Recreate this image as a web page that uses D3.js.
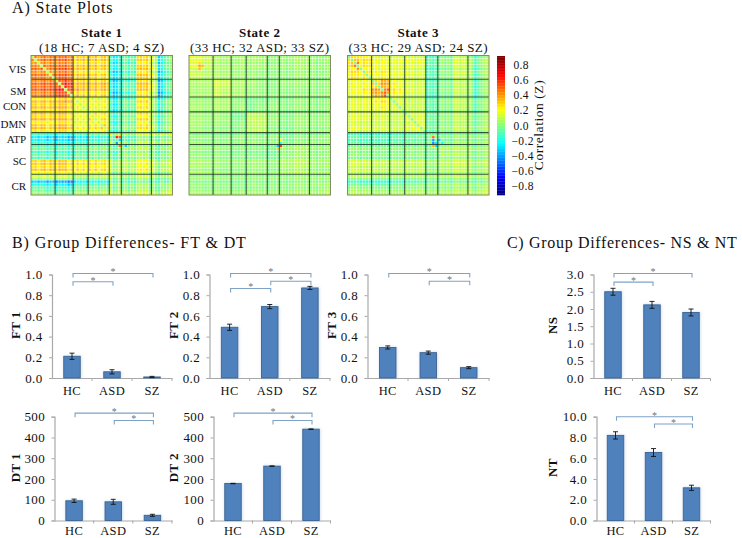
<!DOCTYPE html>
<html><head><meta charset="utf-8">
<script src="https://cdn.jsdelivr.net/npm/d3@7"></script>
<style>
html,body{margin:0;padding:0;background:#fff}
svg{display:block}
text{font-family:"Liberation Serif",serif;fill:#111}
</style></head><body>
<svg id="c" width="742" height="538"></svg>
<script>
const groups = ["HC","ASD","SZ"];
const networks = ["VIS","SM","CON","DMN","ATP","SC","CR"];
const networkEdges = [8,14,19,26,30,40];
const bandEdges = [0,4,8,11,14,16,19,22,26,30,35,40,42,44,47];
const componentCount = 47;

const ft1 = [0.21,0.06,0.01],  ft1Err = [0.03,0.02,0.006];
const ft2 = [0.49,0.69,0.87],  ft2Err = [0.03,0.02,0.015];
const ft3 = [0.295,0.245,0.10],ft3Err = [0.015,0.015,0.01];
const dt1 = [95,90,25],        dt1Err = [8,12,5];
const dt2 = [178,262,440],     dt2Err = [1,1,1];
const ns  = [2.5,2.12,1.9],    nsErr  = [0.1,0.1,0.1];
const nt  = [8.2,6.55,3.15],   ntErr  = [0.35,0.38,0.25];

// [from group, to group, height in axis units]
const ft1Sig = [[0,2,1.01],[0,1,0.93]];
const ft2Sig = [[0,2,1.01],[0,1,0.865],[1,2,0.935]];
const ft3Sig = [[0,2,1.01],[1,2,0.935]];
const dt1Sig = [[0,2,517],[1,2,482]];
const dt2Sig = [[0,2,517],[1,2,482]];
const nsSig  = [[0,2,3.03],[0,1,2.78]];
const ntSig  = [[0,2,10.0],[1,2,9.3]];

const state1 = [
[38,42,42,43,25,28,28,26,-20,-8,20,8,-24,-6],
[42,40,45,46,26,28,26,23,-24,-9,22,10,-27,-10],
[42,45,48,54,28,30,28,28,-26,-11,22,8,-32,-12],
[43,46,54,50,30,28,26,26,-27,-11,20,8,-34,-14],
[25,26,28,30,20,18,16,16,-18,-5,17,3,-17,-3],
[28,28,30,28,18,20,18,18,-17,-3,18,5,-14,-1],
[28,26,28,26,16,18,22,20,-12,-1,18,4,-12,1],
[26,23,28,26,16,18,20,24,-12,-1,16,6,-12,1],
[-20,-24,-26,-27,-18,-17,-12,-12,2,-2,2,6,4,4],
[-8,-9,-11,-11,-5,-3,-1,-1,-2,5,3,3,0,3],
[20,22,22,20,17,18,18,16,2,3,9,5,-1,3],
[8,10,8,8,3,5,4,6,6,3,5,7,1,3],
[-24,-27,-32,-34,-17,-14,-12,-12,4,0,-1,1,3,1],
[-6,-10,-12,-14,-3,-1,1,1,4,3,3,3,1,6]];
const state2 = [
[16,11,5,5,4,5,4,5,1,3,5,3,1,3],
[11,8,6,6,4,4,3,3,1,2,4,3,1,2],
[5,6,13,12,6,6,4,3,0,3,3,3,1,2],
[5,6,12,9,7,6,3,3,1,2,2,3,1,3],
[4,4,6,7,4,2,-2,1,1,1,3,2,1,2],
[5,4,6,6,2,4,-3,2,2,1,2,2,0,2],
[4,3,4,3,-2,-3,9,9,2,0,3,2,2,2],
[5,3,3,3,1,2,9,11,2,1,4,3,2,3],
[1,1,0,1,1,2,2,2,1,-2,1,2,1,2],
[3,2,3,2,1,1,0,1,-2,4,6,3,2,3],
[5,4,3,2,3,2,3,4,1,6,8,4,3,4],
[3,3,3,3,2,2,2,3,2,3,4,4,3,3],
[1,1,1,1,1,0,2,2,1,2,3,3,4,3],
[3,2,2,3,2,2,2,3,2,3,4,3,3,6]];
const state3 = [
[26,22,17,16,14,15,15,14,-9,0,10,4,-7,4],
[22,21,18,20,15,16,14,12,-11,-1,9,4,-9,3],
[17,18,28,36,20,18,13,12,-10,-1,8,3,-10,2],
[16,20,36,38,22,20,13,12,-11,-2,7,2,-11,1],
[14,15,20,22,14,14,10,10,-8,0,8,3,-5,2],
[15,16,18,20,14,16,11,11,-7,0,8,3,-5,3],
[15,14,13,13,10,11,14,14,-5,1,8,4,-3,4],
[14,12,12,12,10,11,14,17,-5,1,8,4,-2,5],
[-9,-11,-10,-11,-8,-7,-5,-5,-1,-2,2,3,1,3],
[0,-1,-1,-2,0,0,1,1,-2,5,6,4,2,4],
[10,9,8,7,8,8,8,8,2,6,9,6,3,6],
[4,4,3,2,3,3,4,4,3,4,6,6,3,6],
[-7,-9,-10,-11,-5,-5,-3,-2,1,2,3,3,4,4],
[4,3,2,1,2,3,4,5,3,4,6,6,4,9]];

// per-component stripe offsets read from the row banding, in hundredths
const stripe1 = [2,5,-2,4,6,-3,5,2,-2,6,3,7,-3,2,-4,5,-2,3,-5,4,-2,5,-4,3,6,-3,8,-7,-4,5,-4,3,-7,2,-5,6,8,4,9,-3,4,-4,-8,4,-3,2,8];
const stripe2 = [1,2,-1,2,1,-1,2,-1,0,3,-2,1,-2,3,-3,1,-2,3,-3,2,-2,3,-1,1,-3,2,-3,2,-1,3,-2,2,-3,1,-2,3,0,2,-2,3,-2,2,-3,3,-2,1,3];
const stripe3 = [-2,4,2,3,-2,4,1,2,-1,3,-2,4,2,-1,-2,3,-1,2,-3,2,-1,3,-2,1,3,-2,-3,2,-2,3,-4,4,-2,3,-4,3,5,-2,3,-3,4,-3,-6,4,-3,2,4];

const diag1 = 10, diag2 = null, diag3 = 0;
// [row, column, value in hundredths]
const spots1 = [[27,28,62],[29,28,-40],[28,29,-28],[27,29,50],[30,29,45],[30,31,-30]];
const spots2 = [[3,3,38],[4,3,34],[3,4,34],[2,3,28],[30,29,-32],[30,30,58],[31,29,30],[29,30,-20],[28,30,24]];
const spots3 = [[2,3,46],[3,2,46],[4,3,42],[27,28,48],[28,28,-38],[29,28,-42],[29,29,-28],[28,30,-30],[30,29,-30],[30,28,36],[29,31,-20],[12,12,52],[11,13,50],[13,12,52]];

const correlationTicks = [0.8,0.6,0.4,0.2,0,-0.2,-0.4,-0.6,-0.8];
const stateTitles = ["State 1","State 2","State 3"];
const stateSubtitles = ["(18 HC; 7 ASD; 4 SZ)","(33 HC; 32 ASD; 33 SZ)","(33 HC; 29 ASD; 24 SZ)"];
const networkLabelRows = [4.6,12.0,17.0,23.0,28.3,35.5,43.8];

const svg = d3.select("#c");
const defs = svg.append("defs");
const blur = defs.append("filter").attr("id","soft").attr("x","-5%").attr("y","-5%").attr("width","110%").attr("height","110%");
blur.append("feGaussianBlur").attr("stdDeviation",0.45);
const shadow = defs.append("filter").attr("id","glow").attr("x","-30%").attr("y","-10%").attr("width","160%").attr("height","120%");
shadow.append("feDropShadow").attr("dx",0.5).attr("dy",0).attr("stdDeviation",1.4).attr("flood-color","#9ab8d8").attr("flood-opacity",0.55);

function jet(t){
  const c = v => Math.round(255*Math.max(0,Math.min(1,1.5-Math.abs(4*t-v))));
  return `rgb(${c(3)},${c(2)},${c(1)})`;
}
const colorOf = d3.scaleLinear().domain([-0.9,0.9]).range([0,1]).clamp(true);

function title(x,y,s,sp){ svg.append("text").attr("x",x).attr("y",y).attr("font-size",16).attr("letter-spacing",sp).text(s); }
title(12,13,"A) State Plots",0.9);
title(12,248,"B) Group Differences- FT & DT",0.9);
title(507,248,"C) Group Differences- NS & NT",0.68);

function heatmap(left,top,w,h,matrix,stripe,diag,spots,ttl,sub,showLabels){
  const x = d3.scaleLinear().domain([0,componentCount]).range([left,left+w]);
  const y = d3.scaleLinear().domain([0,componentCount]).range([top,top+h]);
  const bandOf = i => d3.bisectRight(bandEdges,i)-1;
  const cells = [];
  d3.range(componentCount).forEach(r=>d3.range(componentCount).forEach(c=>{
    let v = matrix[bandOf(r)][bandOf(c)] + stripe[r] + stripe[c];
    if(diag!==null && r===c && r<26) v = diag;
    cells.push({r,c,v});
  }));
  spots.forEach(([r,c,v])=>{cells[r*componentCount+c].v=v;});
  const g = svg.append("g");
  const m = g.append("g").attr("filter","url(#soft)");
  m.selectAll("rect").data(cells).join("rect")
    .attr("x",d=>x(d.c)).attr("y",d=>y(d.r))
    .attr("width",x(1)-x(0)+0.1).attr("height",y(1)-y(0)+0.1)
    .attr("fill",d=>jet(colorOf(d.v/100)));
  const fine = m.append("g").attr("stroke","#fff").attr("stroke-width",0.9).attr("stroke-opacity",0.48);
  d3.range(1,componentCount).forEach(i=>{
    fine.append("line").attr("x1",x(i)).attr("x2",x(i)).attr("y1",top).attr("y2",top+h);
    fine.append("line").attr("x1",left).attr("x2",left+w).attr("y1",y(i)).attr("y2",y(i));
  });
  const net = g.append("g").attr("stroke","#0c2a18").attr("stroke-width",1.1).attr("stroke-opacity",0.8);
  networkEdges.forEach(e=>{
    net.append("line").attr("x1",x(e)).attr("x2",x(e)).attr("y1",top).attr("y2",top+h);
    net.append("line").attr("x1",left).attr("x2",left+w).attr("y1",y(e)).attr("y2",y(e));
  });
  g.append("rect").attr("x",left).attr("y",top).attr("width",w).attr("height",h)
    .attr("fill","none").attr("stroke","#7f8f6a").attr("stroke-width",1);
  svg.append("text").attr("x",left+w/2).attr("y",37).attr("text-anchor","middle")
    .attr("font-size",13).attr("font-weight","bold").attr("letter-spacing",0.5).text(ttl);
  svg.append("text").attr("x",left+w/2).attr("y",51.5).attr("text-anchor","middle")
    .attr("font-size",13).attr("letter-spacing",0.45).text(sub);
  if(showLabels){
    networks.forEach((n,i)=>{
      svg.append("text").attr("x",left-4.8).attr("y",y(networkLabelRows[i])+4)
        .attr("text-anchor","end").attr("font-size",11).text(n);
    });
  }
}
heatmap(31,55.5,141.5,139.5,state1,stripe1,diag1,spots1,stateTitles[0],stateSubtitles[0],true);
heatmap(189,55.5,141.5,139.5,state2,stripe2,diag2,spots2,stateTitles[1],stateSubtitles[1],false);
heatmap(347.5,55.5,141.5,139.5,state3,stripe3,diag3,spots3,stateTitles[2],stateSubtitles[2],false);

// colour bar
(function(){
  const y = d3.scaleLinear().domain([0.92,-0.92]).range([56,195]);
  const steps = d3.range(0.92,-0.92,-0.02);
  svg.append("g").selectAll("rect").data(steps).join("rect")
    .attr("x",497).attr("width",8).attr("y",d=>y(d)).attr("height",y(0)-y(0.02)+0.3)
    .attr("fill",d=>jet(colorOf(d)));
  svg.append("g").selectAll("text").data(correlationTicks).join("text")
    .attr("x",d=>d<0?511.5:513.5).attr("y",d=>y(d)+4).attr("font-size",11.5).attr("letter-spacing",0.35)
    .text(d=>d3.format(".1f")(d));
  svg.append("text").attr("transform","translate(543,125) rotate(-90)").attr("text-anchor","middle")
    .attr("font-size",13.5).attr("letter-spacing",0.55).text("Correlation (Z)");
})();

function barChart(o){
  const x = d3.scaleBand().domain(groups).range([o.x0,o.x1]);
  const y = d3.scaleLinear().domain(o.domain).range([o.y0,o.y1]);
  const g = svg.append("g");
  const barW = 16.5;
  g.append("g").attr("transform",`translate(${o.x0},0)`)
    .call(d3.axisLeft(y).tickValues(d3.range(o.domain[0],o.domain[1]+o.step/2,o.step)).tickSize(3).tickPadding(6.5).tickFormat(d3.format(o.fmt)))
    .call(a=>{a.select(".domain").attr("stroke","#a9a9a9").attr("stroke-width",1.2);a.selectAll("line").attr("stroke","#a9a9a9");
      a.selectAll("text").attr("font-size",13).attr("letter-spacing",0.35).attr("fill","#111").attr("font-family","Liberation Serif");});
  const xAxis = d3.axisBottom(x).tickSize(0).tickPadding(o.catPad);
  g.append("g").attr("transform",`translate(0,${o.y0})`).call(xAxis)
    .call(a=>{a.select(".domain").attr("stroke","#a9a9a9").attr("stroke-width",1.2);
      a.selectAll("text").attr("font-size",12.5).attr("letter-spacing",0.3).attr("fill","#111").attr("font-family","Liberation Serif");});
  g.append("g").selectAll("line").data(d3.range(1,4)).join("line")
    .attr("x1",i=>o.x0+i*x.step()).attr("x2",i=>o.x0+i*x.step()).attr("y1",o.y0).attr("y2",o.y0+3).attr("stroke","#a9a9a9");
  g.append("g").selectAll("rect").data(o.values).join("rect")
    .attr("x",(d,i)=>x(groups[i])+x.bandwidth()/2-barW/2).attr("y",d=>y(d))
    .attr("width",barW).attr("height",d=>Math.max(0.5,o.y0-y(d)))
    .attr("fill","#4f81bd").attr("stroke","#3a6391").attr("stroke-width",0.9).attr("filter","url(#glow)");
  const err = g.append("g").attr("stroke","#111").attr("stroke-width",0.9);
  o.values.forEach((v,i)=>{
    const cx = x(groups[i])+x.bandwidth()/2, e = o.errors[i];
    err.append("line").attr("x1",cx).attr("x2",cx).attr("y1",y(v-e)).attr("y2",y(v+e));
    [v-e,v+e].forEach(w=>err.append("line").attr("x1",cx-2.5).attr("x2",cx+2.5).attr("y1",y(w)).attr("y2",y(w)));
  });
  o.sig.forEach(([a,b,level])=>{
    const xa = x(groups[a])+x.bandwidth()/2+1, xb = x(groups[b])+x.bandwidth()/2+1, yy = y(level);
    g.append("path").attr("fill","none").attr("stroke","#7fa3c7").attr("stroke-width",1.1)
      .attr("d",`M${xa},${yy+4}V${yy}H${xb}V${yy+4}`);
    g.append("text").attr("x",(xa+xb)/2).attr("y",yy+2).attr("text-anchor","middle")
      .attr("font-size",10).style("fill","#667788").text("*");
  });
  svg.append("text").attr("transform",`translate(${o.labelX},${(o.y0+o.y1)/2-1}) rotate(-90)`)
    .attr("text-anchor","middle").attr("font-size",13).attr("font-weight","bold").attr("letter-spacing",0.4).text(o.label);
}
const fracRow = {y0:378,y1:274.5,catPad:8}, countRow = {y0:520.5,y1:416.7,catPad:5.5};
barChart({...fracRow,x0:52,x1:172,domain:[0,1],step:0.2,fmt:".1f",values:ft1,errors:ft1Err,sig:ft1Sig,label:"FT 1",labelX:20});
barChart({...fracRow,x0:209.5,x1:330,domain:[0,1],step:0.2,fmt:".1f",values:ft2,errors:ft2Err,sig:ft2Sig,label:"FT 2",labelX:178});
barChart({...fracRow,x0:367.5,x1:489,domain:[0,1],step:0.2,fmt:".1f",values:ft3,errors:ft3Err,sig:ft3Sig,label:"FT 3",labelX:336});
barChart({...countRow,x0:54.5,x1:172,domain:[0,500],step:100,fmt:"d",values:dt1,errors:dt1Err,sig:dt1Sig,label:"DT 1",labelX:20});
barChart({...countRow,x0:213.5,x1:330.5,domain:[0,500],step:100,fmt:"d",values:dt2,errors:dt2Err,sig:dt2Sig,label:"DT 2",labelX:178});
barChart({...fracRow,x0:593.5,x1:710.5,domain:[0,3],step:0.5,fmt:".1f",values:ns,errors:nsErr,sig:nsSig,label:"NS",labelX:557});
barChart({...countRow,x0:596.5,x1:710.5,domain:[0,10],step:2,fmt:".1f",values:nt,errors:ntErr,sig:ntSig,label:"NT",labelX:557});
</script>
</body></html>
